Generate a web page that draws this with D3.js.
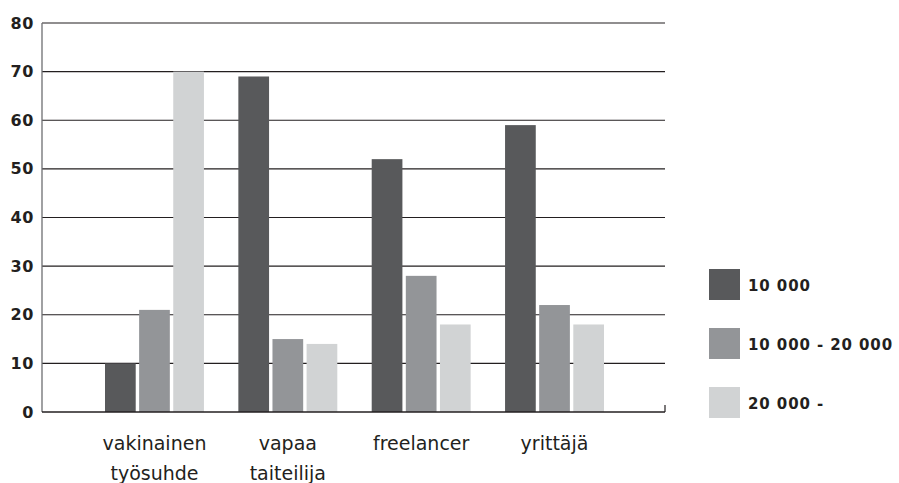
<!DOCTYPE html>
<html><head><meta charset="utf-8">
<script src="https://cdn.jsdelivr.net/npm/d3@7/dist/d3.min.js"></script>
<style>body{margin:0;background:#fff}svg{display:block}</style>
</head><body>
<svg id="c" width="899" height="483"></svg>
<script>
const categories = [["vakinainen","työsuhde"],["vapaa","taiteilija"],["freelancer"],["yrittäjä"]];
const seriesNames = ["10 000","10 000 - 20 000","20 000 -"];
const s1 = [10, 69, 52, 59];
const s2 = [21, 15, 28, 22];
const s3 = [70, 14, 18, 18];
const yTicks = [0,10,20,30,40,50,60,70,80];
const colors = ["#58595b","#939598","#d1d3d4"];
const series = [s1, s2, s3];

(function(){
const svg = d3.select("#c");
const pl = 42, pr = 665, pt = 23, pb = 412;
const y = d3.scaleLinear().domain([0,80]).range([pb, pt]);
const catIdx = categories.map((d,i)=>i);
const x0 = d3.scaleBand().domain(catIdx).range([105, 604]).paddingInner(0.258).paddingOuter(0);
const x1 = d3.scaleBand().domain([0,1,2]).range([0, x0.bandwidth()]).paddingInner(0.1);

svg.append("g").selectAll("line").data(yTicks.filter(t=>t>0)).join("line")
  .attr("x1", pl).attr("x2", pr)
  .attr("y1", d=>y(d)).attr("y2", d=>y(d))
  .attr("stroke", "#231f20").attr("stroke-width", 1.2);

const g = svg.append("g");
categories.forEach((c, ci) => {
  series.forEach((s, si) => {
    g.append("rect")
      .attr("x", x0(ci) + x1(si))
      .attr("width", x1.bandwidth())
      .attr("y", y(s[ci]))
      .attr("height", y(0) - y(s[ci]))
      .attr("fill", colors[si]);
  });
});

svg.append("line").attr("x1", pl).attr("x2", pl).attr("y1", pt).attr("y2", pb)
  .attr("stroke", "#6d6e71").attr("stroke-width", 1.3);
svg.append("line").attr("x1", pl).attr("x2", pr).attr("y1", pb).attr("y2", pb)
  .attr("stroke", "#231f20").attr("stroke-width", 1.3);
svg.append("line").attr("x1", pr).attr("x2", pr).attr("y1", pb - 7).attr("y2", pb)
  .attr("stroke", "#231f20").attr("stroke-width", 1.2);

svg.append("g").selectAll("text").data(yTicks).join("text")
  .attr("x", 34).attr("y", d=>y(d)+5.5)
  .attr("text-anchor","end")
  .attr("font-family","'DejaVu Sans', sans-serif")
  .attr("font-weight","700").attr("font-size", 16).attr("letter-spacing", 0.6).attr("fill","#231f20")
  .text(d=>d);

categories.forEach((c, ci) => {
  const cx = x0(ci) + x0.bandwidth()/2;
  const t = svg.append("text")
    .attr("text-anchor","middle")
    .attr("font-family","'DejaVu Sans', sans-serif")
    .attr("font-size", 19).attr("fill","#231f20");
  c.forEach((line, li) => {
    t.append("tspan").attr("x", cx).attr("y", 450 + li*29.5).text(line);
  });
});

const lg = svg.append("g");
seriesNames.forEach((n, i) => {
  const yy = 269 + i*59;
  lg.append("rect").attr("x", 709).attr("y", yy).attr("width", 31).attr("height", 31).attr("fill", colors[i]);
  lg.append("text").attr("x", 748).attr("y", yy + 21.5)
    .attr("font-family","'DejaVu Sans', sans-serif")
    .attr("font-weight","700").attr("font-size", 15).attr("letter-spacing", 0.9).attr("fill","#231f20")
    .text(n);
});
})();
</script>
</body></html>
